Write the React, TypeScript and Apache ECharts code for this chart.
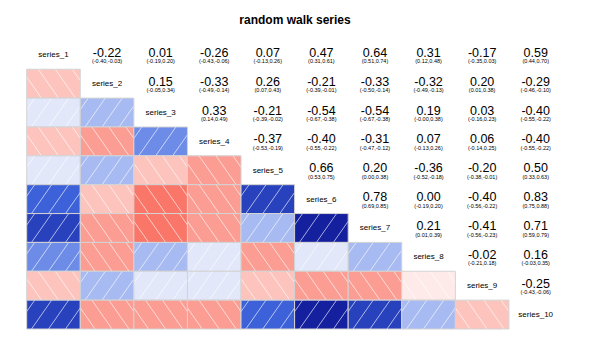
import React, { useEffect, useRef } from 'react';
import * as echarts from 'echarts';

const seriesNames = [
  'series_1', 'series_2', 'series_3', 'series_4', 'series_5',
  'series_6', 'series_7', 'series_8', 'series_9', 'series_10',
];

// Upper-triangle correlations, row i holds pairs (i, i+1..10)
const corrRows: number[][] = [
  [-0.22, 0.01, -0.26, 0.07, 0.47, 0.64, 0.31, -0.17, 0.59],
  [0.15, -0.33, 0.26, -0.21, -0.33, -0.32, 0.20, -0.29],
  [0.33, -0.21, -0.54, -0.54, 0.19, 0.03, -0.40],
  [-0.37, -0.40, -0.31, 0.07, 0.06, -0.40],
  [0.66, 0.20, -0.36, -0.20, 0.50],
  [0.78, 0.004, -0.40, 0.83],
  [0.21, -0.41, 0.71],
  [-0.02, 0.16],
  [-0.25],
];

const ciLowRows: number[][] = [
  [-0.40, -0.19, -0.43, -0.13, 0.31, 0.51, 0.12, -0.35, 0.44],
  [-0.05, -0.49, 0.07, -0.39, -0.50, -0.49, 0.01, -0.46],
  [0.14, -0.39, -0.67, -0.67, -0.004, -0.16, -0.55],
  [-0.53, -0.55, -0.47, -0.13, -0.14, -0.55],
  [0.53, 0.00, -0.52, -0.38, 0.33],
  [0.69, -0.19, -0.56, 0.75],
  [0.01, -0.56, 0.59],
  [-0.21, -0.03],
  [-0.43],
];

const ciHighRows: number[][] = [
  [-0.03, 0.20, -0.06, 0.26, 0.61, 0.74, 0.48, 0.03, 0.70],
  [0.34, -0.14, 0.43, -0.01, -0.14, -0.13, 0.38, -0.10],
  [0.49, -0.02, -0.38, -0.38, 0.38, 0.23, -0.22],
  [-0.19, -0.22, -0.12, 0.26, 0.25, -0.22],
  [0.75, 0.38, -0.18, -0.01, 0.63],
  [0.85, 0.20, -0.22, 0.88],
  [0.39, -0.23, 0.79],
  [0.18, 0.35],
  [-0.06],
];

const PALETTE = [
  '#ff0000', '#fd2723', '#fc4f46', '#fa7669', '#fb9d93', '#fdc4be', '#feebe9',
  '#e2e8fa', '#a7baf1', '#6d8ce8', '#3c61d9', '#2841bc', '#14209e', '#000080',
];

const FONT = 'Liberation Sans, Arial, sans-serif';

type Cell = { col: number; row: number; kind: 'upper' | 'lower' | 'diag'; r: number; lo: number; hi: number; name: string };

function buildCells(): Cell[] {
  const n = seriesNames.length;
  const cells: Cell[] = [];
  for (let i = 0; i < n; i++) {
    for (let j = 0; j < n; j++) {
      if (i === j) {
        cells.push({ col: j, row: i, kind: 'diag', r: 0, lo: 0, hi: 0, name: seriesNames[i] });
      } else {
        const a = Math.min(i, j);
        const b = Math.max(i, j);
        const k = b - a - 1;
        cells.push({
          col: j, row: i, kind: j > i ? 'upper' : 'lower',
          r: corrRows[a][k], lo: ciLowRows[a][k], hi: ciHighRows[a][k], name: '',
        });
      }
    }
  }
  return cells;
}

function colorFor(r: number) {
  let idx = Math.ceil((r + 1) * 7) - 1;
  if (idx < 0) idx = 0;
  if (idx > 13) idx = 13;
  return PALETTE[idx];
}

export default function App() {
  const ref = useRef<HTMLDivElement>(null);
  useEffect(() => {
    if (!ref.current) return;
    const chart = echarts.init(ref.current, undefined, { renderer: 'svg' });
    const cells = buildCells();
    const option: any = {
      animation: false,
      title: {
        text: 'random walk series',
        left: 'center',
        top: 9,
        textStyle: { fontSize: 12, fontWeight: 'bold', color: '#000', fontFamily: FONT },
      },
      grid: { left: 26.7, right: 27.5, top: 40.4, bottom: 27 },
      xAxis: { type: 'category', data: seriesNames, show: false },
      yAxis: { type: 'category', data: seriesNames, show: false, inverse: true },
      series: [
        {
          type: 'custom',
          silent: true,
          data: cells.map((c) => [c.col, c.row]),
          renderItem: (params: any, api: any) => {
            const c = cells[params.dataIndex];
            const center = api.coord([c.col, c.row]);
            const size = api.size([1, 1]);
            const w = size[0];
            const h = size[1];
            const x0 = center[0] - w / 2;
            const y0 = center[1] - h / 2;
            if (c.kind === 'diag') {
              return {
                type: 'text',
                style: {
                  text: c.name, x: center[0], y: center[1], align: 'center', verticalAlign: 'middle',
                  fontSize: 8, fontFamily: FONT, fill: '#000',
                },
              };
            }
            if (c.kind === 'upper') {
              return {
                type: 'group',
                children: [
                  {
                    type: 'text',
                    style: {
                      text: c.r.toFixed(2), x: center[0], y: y0 + h * 0.43, align: 'center', verticalAlign: 'middle',
                      fontSize: 12.5, lineHeight: 11, fontFamily: FONT, fill: '#000',
                    },
                  },
                  {
                    type: 'text',
                    style: {
                      text: '(' + c.lo.toFixed(2) + ',' + c.hi.toFixed(2) + ')', x: center[0], y: y0 + h * 0.73,
                      align: 'center', verticalAlign: 'middle', fontSize: 5.5, lineHeight: 5, fontFamily: FONT, fill: '#000',
                    },
                  },
                ],
              };
            }
            const children: any[] = [
              {
                type: 'rect',
                shape: { x: x0, y: y0, width: w, height: h },
                style: { fill: colorFor(c.r), stroke: 'none' },
              },
            ];
            const m = 0.7;
            const sp = 17;
            const pos = c.r >= 0;
            for (let k = -3; k < 10; k++) {
              const cc = 8 - h * m + k * sp;
              const v1 = Math.max(0, -cc / m);
              const v2 = Math.min(h, (w - cc) / m);
              if (v2 <= v1) continue;
              let u1 = cc + v1 * m;
              let u2 = cc + v2 * m;
              if (!pos) { u1 = w - u1; u2 = w - u2; }
              children.push({
                type: 'line',
                shape: { x1: x0 + u1, y1: y0 + h - v1, x2: x0 + u2, y2: y0 + h - v2 },
                style: { stroke: 'rgba(255,255,255,0.7)', lineWidth: 0.9 },
              });
            }
            children.push({
              type: 'rect',
              shape: { x: x0, y: y0, width: w, height: h },
              style: { fill: 'none', stroke: '#d3d3d3', lineWidth: 1 },
            });
            return { type: 'group', children };
          },
        },
      ],
    };
    chart.setOption(option);
    return () => chart.dispose();
  }, []);
  return <div ref={ref} style={{ position: 'fixed', left: 0, top: 0, width: 590, height: 356, background: '#fff' }} />;
}
